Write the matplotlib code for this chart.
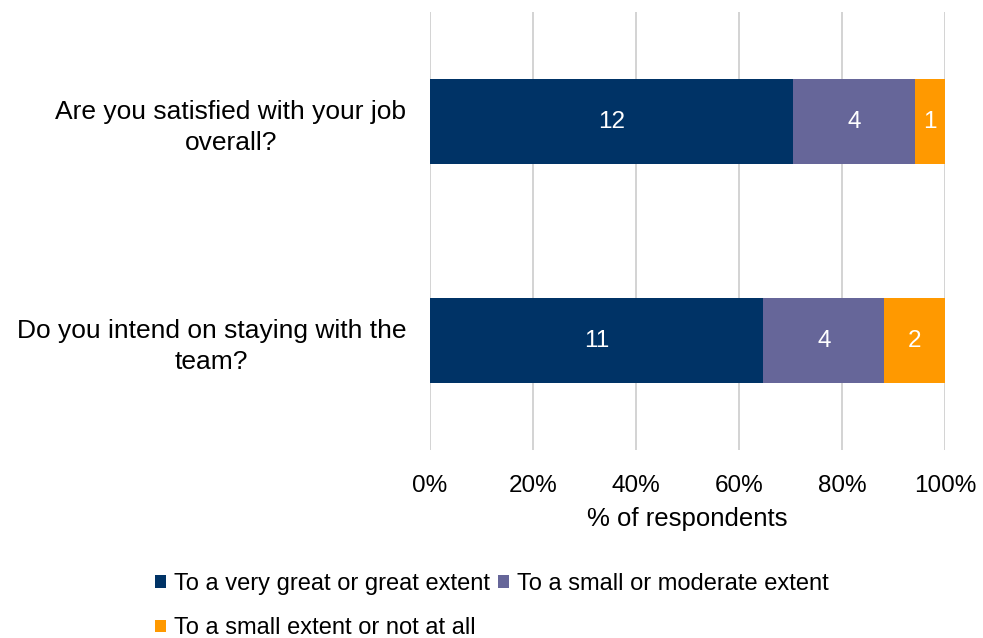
import matplotlib.pyplot as plt
from matplotlib.ticker import PercentFormatter

plt.rcParams['font.family'] = ['Liberation Sans', 'DejaVu Sans']

preguntas = ["Are you satisfied with your job\noverall?",
             "Do you intend on staying with the\nteam?"]
categorias = ["To a very great or great extent",
              "To a small or moderate extent",
              "To a small extent or not at all"]
conteos = [
    [12, 11],   # very great / great
    [4, 4],     # small / moderate
    [1, 2],     # small extent / not at all
]
colores = ['#003366', '#666699', '#FF9900']

totales = [sum(c[i] for c in conteos) for i in range(len(preguntas))]

fig = plt.figure(figsize=(9.83, 6.38), dpi=100)
ax = fig.add_axes([0.4374, 0.2947, 0.5239, 0.6863])

y = list(range(len(preguntas)))
izquierda = [0.0] * len(preguntas)
barras = []
for serie, color, nombre in zip(conteos, colores, categorias):
    pct = [v / t * 100 for v, t in zip(serie, totales)]
    b = ax.barh(y, pct, left=izquierda, height=0.386, color=color, label=nombre, zorder=3)
    barras.append(b)
    for yi, xi, p, v in zip(y, izquierda, pct, serie):
        ax.text(xi + p / 2, yi, str(v), ha='center', va='center',
                color='white', fontsize=17.5, zorder=4)
    izquierda = [a + p for a, p in zip(izquierda, pct)]

ax.set_xlim(0, 100)
ax.set_ylim(1.5, -0.5)
ax.set_xticks(range(0, 101, 20))
ax.xaxis.set_major_formatter(PercentFormatter(decimals=0))
ax.set_yticks(y)
ax.set_yticklabels(preguntas, ha='right', ma='center', linespacing=1.35)
ax.tick_params(axis='y', length=0, pad=17, labelsize=19)
ax.tick_params(axis='x', length=0, pad=18, labelsize=17.5)
ax.grid(axis='x', color='#D0D0D0', linewidth=1.3, zorder=0)
for s in ax.spines.values():
    s.set_visible(False)
ax.set_xlabel("% of respondents", fontsize=18.5, labelpad=7)

# orden de leyenda: primera fila dos categorías, segunda la tercera
orden = [0, 2, 1]
fig.legend([barras[i] for i in orden], [categorias[i] for i in orden],
           ncol=2, loc='upper left', bbox_to_anchor=(0.158, 0.102),
           frameon=False, fontsize=17, handlelength=0.45, handleheight=0.45,
           handletextpad=0.35, columnspacing=0.35, labelspacing=0.95,
           borderaxespad=0, borderpad=0)

fig.savefig("out.png", dpi=100)
